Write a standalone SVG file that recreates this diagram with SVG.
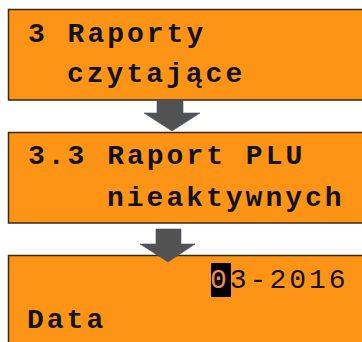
<svg xmlns="http://www.w3.org/2000/svg" width="362" height="342" viewBox="0 0 362 342">
<style>
.box{fill:#FE9415;stroke:#3a2810;stroke-width:1.5}
.t{font-family:"Liberation Mono","DejaVu Sans Mono",monospace;font-weight:bold;font-size:28px;letter-spacing:3px;fill:#111}
.r{font-weight:normal}
.arr{fill:#525252;stroke:#4a5670;stroke-width:0.6}
</style>
<rect width="362" height="342" fill="#fff"/>
<g id="node1">
<rect class="box" x="8.5" y="9.5" width="360" height="90.5"/>
<text class="t" x="28" y="42">3 Raporty</text>
<text class="t" x="67" y="82">czytające</text>
</g>
<g id="node2">
<rect class="box" x="8.5" y="132.5" width="360" height="90.5"/>
<text class="t" x="28" y="164">3.3 Raport PLU</text>
<text class="t" x="107" y="206">nieaktywnych</text>
</g>
<g id="node3">
<rect class="box" x="8.5" y="255.5" width="360" height="95"/>
<rect x="211" y="263" width="20" height="34" fill="#000"/>
<text class="t r" x="210" y="288"><tspan fill="#F08A5A">0</tspan>3-2016</text>
<text class="t" x="27" y="328">Data</text>
</g>
<g id="connectors">
<polygon class="arr" points="157,100 183,100 183,113 200,113 172,131 144,113 157,113"/>
<polygon class="arr" points="156,229 181,229 181,244 195,244 168,262 140,244 156,244"/>
</g>
</svg>
